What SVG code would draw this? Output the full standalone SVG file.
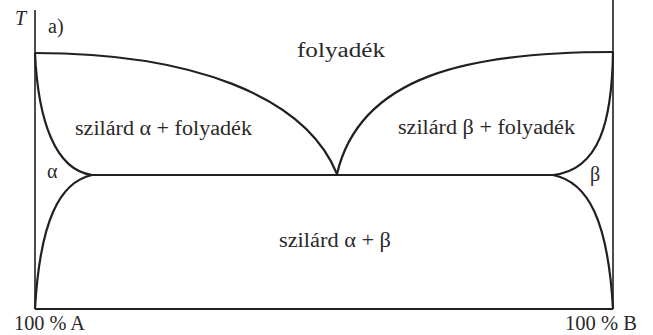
<svg xmlns="http://www.w3.org/2000/svg" width="653" height="335" viewBox="0 0 653 335">
<style>
.ln{fill:none;stroke:#231f20;stroke-width:2.2;stroke-linejoin:round}
.ax{fill:none;stroke:#231f20;stroke-width:1.6}
.t{font-family:"Liberation Serif","Times New Roman",serif;font-size:20px;fill:#2b2829}
</style>
<rect width="653" height="335" fill="#fff"/>
<g id="axes">
<path class="ax" d="M35,10 V309"/>
<path class="ax" d="M613,0 V309"/>
<path class="ln" d="M35,309 H613"/>
</g>
<g id="curves">
<path class="ln" d="M35,53 C190,53 305,95 337,174"/>
<path class="ln" d="M613,52 C470,52 360,75 337,174"/>
<path class="ln" d="M35,53 C38,120 55,170 92,175"/>
<path class="ln" d="M613,52 C612,120 600,170 553,175"/>
<path class="ln" d="M92,175 C60,182 40,220 35,309"/>
<path class="ln" d="M553,175 C588,182 608,220 613,309"/>
<path class="ln" d="M92,175 H553"/>
</g>
<g id="labels">
<text class="t" x="15" y="25" font-style="italic" font-size="19">T</text>
<text class="t" x="48" y="33" font-size="19">a)</text>
<text class="t" x="297" y="57" textLength="88" lengthAdjust="spacingAndGlyphs">folyadék</text>
<text class="t" x="75" y="135" textLength="177" lengthAdjust="spacingAndGlyphs">szilárd α + folyadék</text>
<text class="t" x="398" y="134" textLength="177" lengthAdjust="spacingAndGlyphs">szilárd β + folyadék</text>
<text class="t" x="47" y="178">α</text>
<text class="t" x="590" y="181">β</text>
<text class="t" x="279" y="247" textLength="112" lengthAdjust="spacingAndGlyphs">szilárd α + β</text>
<text class="t" x="14" y="330" font-size="19" textLength="71" lengthAdjust="spacingAndGlyphs">100 % A</text>
<text class="t" x="565" y="330" font-size="19" textLength="72" lengthAdjust="spacingAndGlyphs">100 % B</text>
</g>
</svg>
